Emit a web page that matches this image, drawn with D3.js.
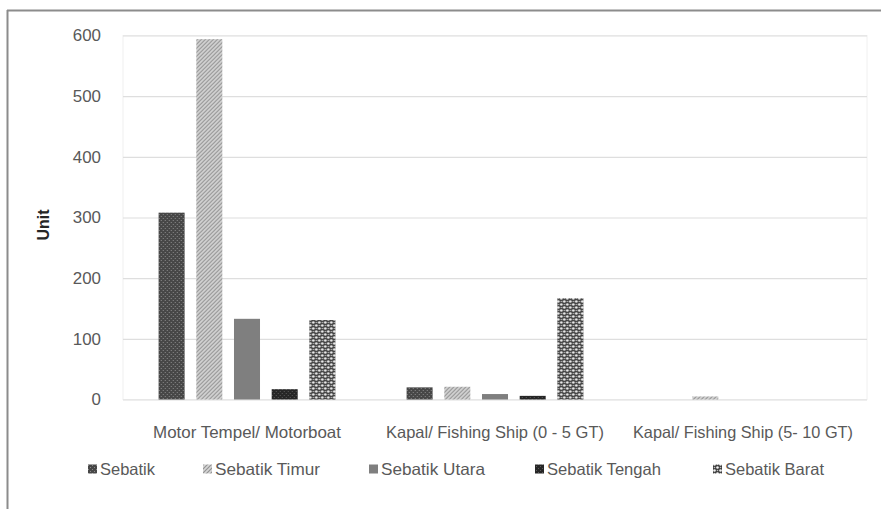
<!DOCTYPE html>
<html>
<head>
<meta charset="utf-8">
<script src="https://cdn.jsdelivr.net/npm/d3@7"></script>
<style>
  html, body { margin: 0; padding: 0; background: #fff; }
  svg { display: block; }
  text { font-family: "Liberation Sans Narrow", "Arial Narrow", "Liberation Sans", Arial, sans-serif; }
</style>
</head>
<body>
<svg id="chart" width="881" height="509"></svg>
<script>
// Vessel counts per district
const categories = ["Motor Tempel/ Motorboat", "Kapal/ Fishing Ship (0 - 5 GT)", "Kapal/ Fishing Ship (5- 10 GT)"];
const seriesNames = ["Sebatik", "Sebatik Timur", "Sebatik Utara", "Sebatik Tengah", "Sebatik Barat"];
const sebatik       = [308, 20, 0];
const sebatikTimur  = [594, 21, 5];
const sebatikUtara  = [133, 9, 0];
const sebatikTengah = [17, 6, 0];
const sebatikBarat  = [131, 167, 0];
const yTicks = [0, 100, 200, 300, 400, 500, 600];

const seriesValues = [sebatik, sebatikTimur, sebatikUtara, sebatikTengah, sebatikBarat];

const svg = d3.select("#chart");
const defs = svg.append("defs");

// Fill patterns for each series
function pat(id, w, h, build) {
  const p = defs.append("pattern").attr("id", id).attr("patternUnits", "userSpaceOnUse")
    .attr("width", w).attr("height", h);
  build(p);
}
pat("p0", 4, 4, p => {
  p.append("rect").attr("width", 4).attr("height", 4).attr("fill", "#474747");
  p.append("rect").attr("x", 0).attr("y", 0).attr("width", 1).attr("height", 1).attr("fill", "#8a8a8a");
  p.append("rect").attr("x", 2).attr("y", 2).attr("width", 1).attr("height", 1).attr("fill", "#8a8a8a");
});
pat("p1", 4, 4, p => {
  p.append("rect").attr("width", 4).attr("height", 4).attr("fill", "#d6d6d6");
  p.append("path").attr("d", "M-1,1 L1,-1 M0,4 L4,0 M3,5 L5,3").attr("stroke", "#939393").attr("stroke-width", 1.2);
});
pat("p2", 4, 4, p => {
  p.append("rect").attr("width", 4).attr("height", 4).attr("fill", "#7f7f7f");
});
pat("p3", 4, 4, p => {
  p.append("rect").attr("width", 4).attr("height", 4).attr("fill", "#262626");
  p.append("rect").attr("x", 1).attr("y", 1).attr("width", 1).attr("height", 1).attr("fill", "#5a5a5a");
  p.append("rect").attr("x", 3).attr("y", 3).attr("width", 1).attr("height", 1).attr("fill", "#5a5a5a");
});
pat("p4", 6, 6, p => {
  p.append("rect").attr("width", 6).attr("height", 6).attr("fill", "#3c3c3c");
  p.append("circle").attr("cx", 1.5).attr("cy", 1.5).attr("r", 1.3).attr("fill", "#f2f2f2");
  p.append("circle").attr("cx", 4.5).attr("cy", 4.5).attr("r", 1.3).attr("fill", "#f2f2f2");
  p.append("circle").attr("cx", 4.5).attr("cy", 1.5).attr("r", 0.8).attr("fill", "#bdbdbd");
  p.append("circle").attr("cx", 1.5).attr("cy", 4.5).attr("r", 0.8).attr("fill", "#bdbdbd");
});
const fills = ["url(#p0)", "url(#p1)", "url(#p2)", "url(#p3)", "url(#p4)"];

// Outer frame (top and left edges)
svg.append("line").attr("x1", 7).attr("x2", 881).attr("y1", 10.5).attr("y2", 10.5)
  .attr("stroke", "#8c8c8c").attr("stroke-width", 2);
svg.append("line").attr("x1", 7.5).attr("x2", 7.5).attr("y1", 10).attr("y2", 509)
  .attr("stroke", "#8c8c8c").attr("stroke-width", 2);

const plot = { left: 123, right: 867, top: 35.5, bottom: 399.5 };

const x0 = d3.scaleBand().domain(categories).range([plot.left, plot.right])
  .paddingInner(0.24).paddingOuter(0.12);
const x1 = d3.scaleBand().domain(seriesNames).range([0, x0.bandwidth()])
  .paddingInner(0.31).paddingOuter(0.155);
const y = d3.scaleLinear().domain([0, 600]).range([plot.bottom, plot.top]);

// Plot area frame
svg.append("rect").attr("x", plot.left).attr("y", plot.top)
  .attr("width", plot.right - plot.left).attr("height", plot.bottom - plot.top)
  .attr("fill", "none").attr("stroke", "#f0f0f0").attr("stroke-width", 1);

// Gridlines and value labels
const yAxis = d3.axisLeft(y).tickValues(yTicks).tickSize(-(plot.right - plot.left)).tickPadding(22).tickFormat(d3.format("d"));
const gy = svg.append("g").attr("transform", `translate(${plot.left},0)`).call(yAxis);
gy.select(".domain").remove();
gy.selectAll(".tick line").attr("stroke", "#dedede").attr("stroke-width", 1.2);
gy.selectAll(".tick text").attr("fill", "#595959").attr("font-size", 17)
  .attr("font-family", "'Liberation Sans Narrow', 'Arial Narrow', sans-serif")
  .attr("textLength", d => String(d).length * 9.4).attr("lengthAdjust", "spacingAndGlyphs");

// Bars
const groups = svg.append("g").selectAll("g").data(categories).join("g")
  .attr("transform", d => `translate(${x0(d)},0)`);
groups.selectAll("rect")
  .data((c, ci) => seriesNames.map((s, si) => ({ s, si, v: seriesValues[si][ci] })))
  .join("rect")
  .attr("x", d => x1(d.s))
  .attr("width", x1.bandwidth())
  .attr("y", d => y(d.v))
  .attr("height", d => y(0) - y(d.v))
  .attr("fill", d => fills[d.si]);

// Category labels
const catWidths = [188, 218, 220];
const gx = svg.append("g").attr("transform", `translate(0,${plot.bottom})`)
  .call(d3.axisBottom(x0).tickSize(0).tickPadding(27));
gx.select(".domain").remove();
gx.selectAll(".tick text").attr("fill", "#595959").attr("font-size", 16.5)
  .attr("font-family", "'Liberation Sans Narrow', 'Arial Narrow', sans-serif")
  .attr("textLength", (d, i) => catWidths[i]).attr("lengthAdjust", "spacingAndGlyphs");

// Axis title
svg.append("text").attr("transform", "translate(49,225) rotate(-90)")
  .attr("text-anchor", "middle").attr("font-size", 16).attr("font-weight", "bold")
  .attr("fill", "#262626").text("Unit");

// Legend
const legendX = [88, 203, 369, 535, 713];
const legendW = [55, 105, 104, 114, 99];
const lg = svg.append("g").selectAll("g").data(seriesNames).join("g")
  .attr("transform", (d, i) => `translate(${legendX[i]},469)`);
lg.append("rect").attr("x", 0).attr("y", -4.5).attr("width", 9).attr("height", 9)
  .attr("fill", (d, i) => fills[i]);
lg.append("text").attr("x", 12).attr("y", 6).attr("font-size", 16.5).attr("fill", "#595959")
  .attr("textLength", (d, i) => legendW[i]).attr("lengthAdjust", "spacingAndGlyphs")
  .text(d => d);
</script>
</body>
</html>
